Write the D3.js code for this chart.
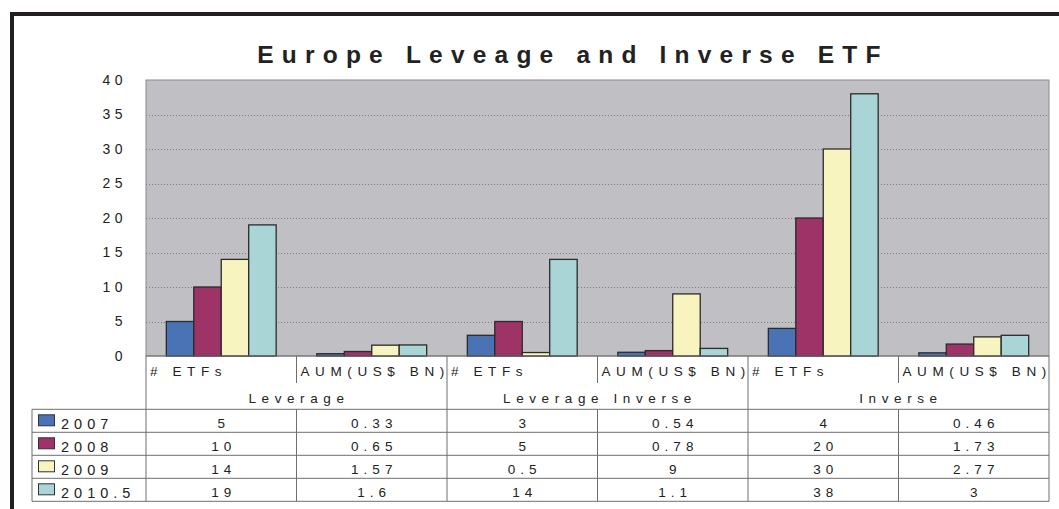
<!DOCTYPE html>
<html>
<head>
<meta charset="utf-8">
<script src="https://cdn.jsdelivr.net/npm/d3@7"></script>
<style>
  html, body { margin: 0; padding: 0; background: #ffffff; }
  svg { display: block; }
  text { font-family: "Liberation Sans", Arial, sans-serif; fill: #222; }
</style>
</head>
<body>
<svg id="chart" width="1059" height="509"></svg>
<script>
// ---- data ----
const title = "Europe Leveage and Inverse ETF";
const groups = ["Leverage", "Leverage Inverse", "Inverse"];
const measures = ["# ETFs", "AUM(US$ BN)"];
const seriesNames = ["2007", "2008", "2009", "2010.5"];
const values2007 = [5, 0.33, 3, 0.54, 4, 0.46];
const values2008 = [10, 0.65, 5, 0.78, 20, 1.73];
const values2009 = [14, 1.57, 0.5, 9, 30, 2.77];
const values2010_5 = [19, 1.6, 14, 1.1, 38, 3];
const yTicks = [0, 5, 10, 15, 20, 25, 30, 35, 40];
const seriesColors = ["#4a73b6", "#9d3366", "#f8f4c0", "#a9d5d6"];

const seriesValues = [values2007, values2008, values2009, values2010_5];
// one column per (group, measure) pair
const columns = [];
groups.forEach((g, gi) => measures.forEach((m, mi) => columns.push({ key: gi * 2 + mi, group: g, measure: m })));

// ---- layout ----
const svg = d3.select("#chart");
const plot = { left: 146, right: 1049, top: 80, bottom: 356 };
const headerMid = 383, headerBottom = 409.3, rowH = 23, legendLeft = 32;

const x0 = d3.scaleBand().domain(columns.map(c => c.key)).range([plot.left, plot.right]).padding(0);
const x1 = d3.scaleBand().domain(seriesNames).range([0, x0.bandwidth()]).paddingInner(0).paddingOuter(0.74);
const y = d3.scaleLinear().domain([0, 40]).range([plot.bottom, plot.top]);

// outer frame (top and left rules)
svg.append("line").attr("x1", 10).attr("x2", 1059).attr("y1", 14).attr("y2", 14)
  .attr("stroke", "#231f20").attr("stroke-width", 4);
svg.append("line").attr("x1", 12).attr("x2", 12).attr("y1", 12).attr("y2", 509)
  .attr("stroke", "#231f20").attr("stroke-width", 4);

// title
svg.append("text").attr("x", 573).attr("y", 63).attr("text-anchor", "middle")
  .style("font-size", "24.5px").style("font-weight", "bold").style("letter-spacing", "8.2px")
  .text(title);

// plot background
svg.append("rect").attr("x", plot.left).attr("y", plot.top)
  .attr("width", plot.right - plot.left).attr("height", plot.bottom - plot.top)
  .attr("fill", "#c0c0c4").attr("stroke", "#8a8a8e").attr("stroke-width", 1);

// gridlines
svg.append("g").selectAll("line").data(yTicks.filter(t => t > 0 && t < 40)).join("line")
  .attr("x1", plot.left).attr("x2", plot.right)
  .attr("y1", d => Math.round(y(d)) + 0.5).attr("y2", d => Math.round(y(d)) + 0.5)
  .attr("stroke", "#7d7d82").attr("stroke-width", 1).attr("stroke-dasharray", "1,2");

// y axis labels
const yAxis = d3.axisLeft(y).tickValues(yTicks).tickSize(0).tickPadding(0);
const yg = svg.append("g").attr("transform", `translate(${plot.left - 19},0)`).call(yAxis);
yg.select(".domain").remove();
yg.selectAll("text").style("font-size", "14px").style("letter-spacing", "4.5px")
  .style("font-family", "Liberation Sans, Arial, sans-serif").attr("fill", "#222");

// bars
const barG = svg.append("g");
seriesNames.forEach((s, si) => {
  barG.append("g").selectAll("rect").data(columns).join("rect")
    .attr("x", c => x0(c.key) + x1(s))
    .attr("width", x1.bandwidth())
    .attr("y", c => y(seriesValues[si][c.key]))
    .attr("height", c => y(0) - y(seriesValues[si][c.key]))
    .attr("fill", seriesColors[si])
    .attr("stroke", "#2b2b2b").attr("stroke-width", 1.3);
});

// ---- data table ----
const lineColor = "#6e6e6e";
const tbl = svg.append("g");
const rowTops = seriesNames.map((s, i) => headerBottom + i * rowH);
const tableBottom = headerBottom + seriesNames.length * rowH;

// axis line
tbl.append("line").attr("x1", plot.left).attr("x2", plot.right).attr("y1", plot.bottom).attr("y2", plot.bottom)
  .attr("stroke", lineColor).attr("stroke-width", 1.2);

// horizontal rules of the data rows
[headerBottom, ...rowTops.slice(1), tableBottom].forEach(yy => {
  tbl.append("line").attr("x1", legendLeft).attr("x2", plot.right).attr("y1", yy).attr("y2", yy)
    .attr("stroke", lineColor).attr("stroke-width", 1);
});
// legend column edge
tbl.append("line").attr("x1", legendLeft).attr("x2", legendLeft).attr("y1", headerBottom).attr("y2", tableBottom)
  .attr("stroke", lineColor).attr("stroke-width", 1);

// vertical rules: group edges full height, measure edges short in header
const colEdges = columns.map(c => x0(c.key)).concat([plot.right]);
colEdges.forEach((xx, i) => {
  const groupEdge = i % 2 === 0;
  tbl.append("line").attr("x1", xx).attr("x2", xx)
    .attr("y1", plot.bottom).attr("y2", groupEdge ? tableBottom : headerMid)
    .attr("stroke", lineColor).attr("stroke-width", 1);
  if (!groupEdge) {
    tbl.append("line").attr("x1", xx).attr("x2", xx)
      .attr("y1", headerBottom).attr("y2", tableBottom)
      .attr("stroke", lineColor).attr("stroke-width", 1);
  }
});

// measure labels (left aligned, may run into the next cell)
tbl.selectAll("text.measure").data(columns).join("text").attr("class", "measure")
  .attr("x", c => x0(c.key) + 4).attr("y", 375.5)
  .style("font-size", "13.5px").style("letter-spacing", "5.6px")
  .text(c => c.measure);

// group labels
tbl.selectAll("text.group").data(groups).join("text").attr("class", "group")
  .attr("x", (g, gi) => (x0(gi * 2) + x0(gi * 2) + 2 * x0.bandwidth()) / 2 + 2.5)
  .attr("y", 402.5).attr("text-anchor", "middle")
  .style("font-size", "13.5px").style("letter-spacing", "5.6px")
  .text(g => g);

// legend cells
seriesNames.forEach((s, si) => {
  const top = rowTops[si];
  tbl.append("rect").attr("x", 38.5).attr("y", top + 5.5).attr("width", 16).attr("height", 11)
    .attr("fill", seriesColors[si]).attr("stroke", "#333").attr("stroke-width", 1);
  tbl.append("text").attr("x", 61).attr("y", top + 19.5)
    .style("font-size", "14.5px").style("letter-spacing", "5px").text(s);
  // values
  tbl.append("g").selectAll("text").data(columns).join("text")
    .attr("x", c => x0(c.key) + x0.bandwidth() / 2 + 2.5).attr("y", top + 19)
    .attr("text-anchor", "middle")
    .style("font-size", "13.5px").style("letter-spacing", "5px")
    .text(c => String(seriesValues[si][c.key]));
});
</script>
</body>
</html>
